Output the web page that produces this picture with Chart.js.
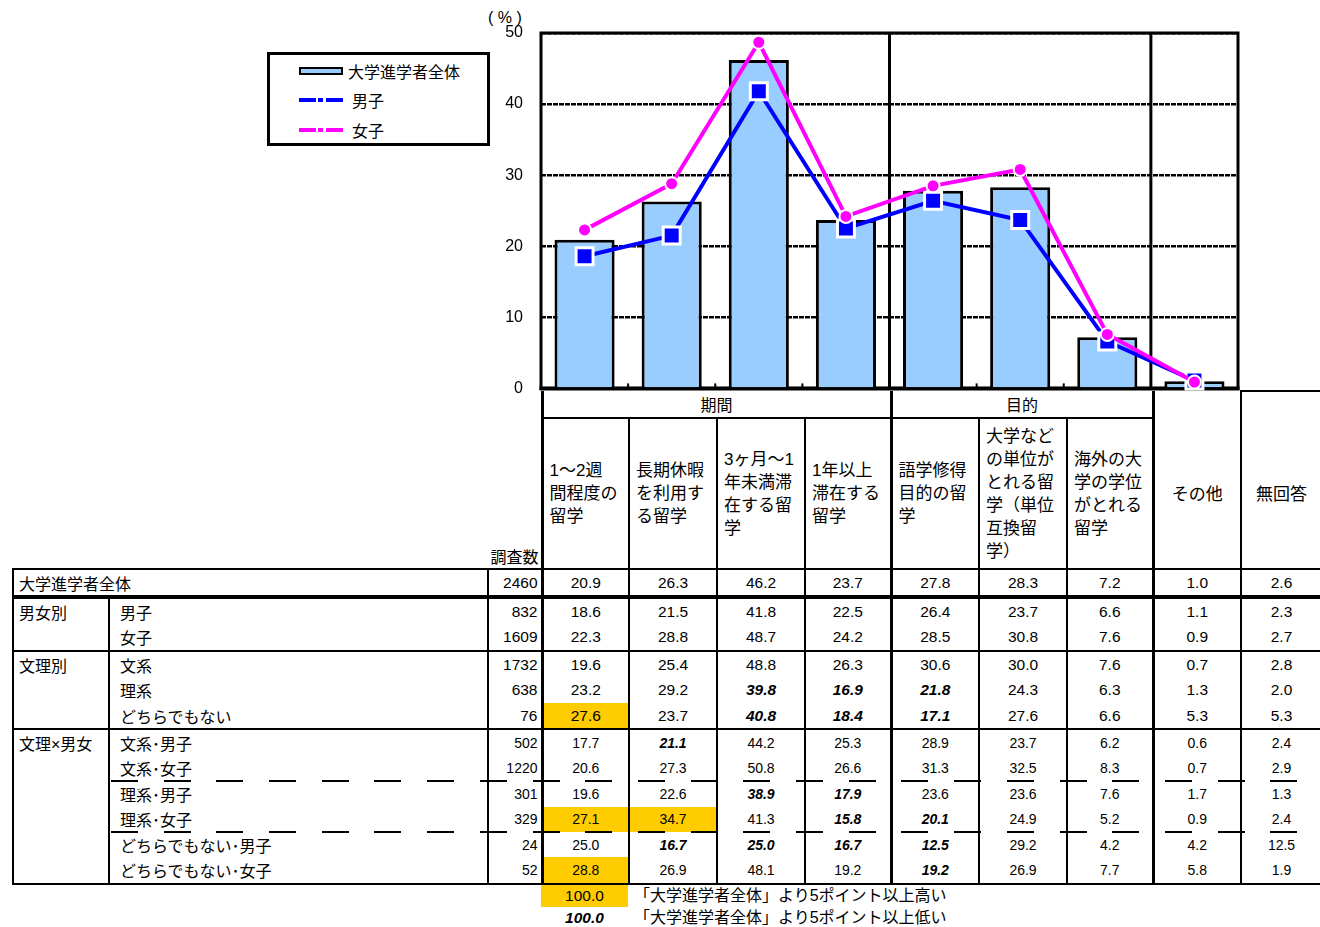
<!DOCTYPE html>
<html lang="ja">
<head>
<meta charset="utf-8">
<title>希望する留学の形態</title>
<script src="https://cdn.jsdelivr.net/npm/chart.js@4.4.1/dist/chart.umd.min.js"></script>
<style>
body { margin:0; width:1320px; height:927px; position:relative; overflow:hidden; background:#fff; color:#000;
  font-family:"Liberation Sans","Noto Sans CJK JP",sans-serif; }
#chartBox { position:absolute; left:480px; top:0; width:780px; height:416px; z-index:2; }
#unit { position:absolute; left:488px; top:8px; font-size:16px; line-height:20px; white-space:pre; }
#legend { position:absolute; left:267px; top:52px; width:217px; height:88px; border:3px solid #000; font-size:16px; }
#legend .it { position:absolute; left:29px; width:44px; }
#legend .tx { position:absolute; line-height:20px; }
#tbl { position:absolute; left:12px; top:390px; border-collapse:collapse; table-layout:fixed; width:1308px; }
#tbl td { padding:0; white-space:nowrap; overflow:hidden; }
#tbl tr.d td { height:25.4px; }
.lab { font-size:16px; padding-left:5px !important; vertical-align:middle; }
.lab2 { font-size:16px; padding-left:10px !important; }
.n { text-align:right; padding-right:3px !important; }
.v { text-align:center; }
.hi { background:#FFCC00; }
.lo { font-weight:bold; font-style:italic; }
.hd { font-size:17px; line-height:23px; vertical-align:middle; padding-left:6px !important; }
.dash { position:absolute; height:2px; z-index:3;
  background:repeating-linear-gradient(to right, #000 0 27px, transparent 27px 52.7px); }
.note { position:absolute; font-size:16px; line-height:22px; }
</style>
</head>
<body>
<div id="unit">( % )</div>
<div id="legend"></div>
<div id="chartBox"><canvas id="chart" width="780" height="416"></canvas></div>
<table id="tbl"></table>
<div id="notes"></div>
<script>
// column headers (line breaks as in the source table)
const columnLines = [
  ['1～2週', '間程度の', '留学'],
  ['長期休暇', 'を利用す', 'る留学'],
  ['3ヶ月～1', '年未満滞', '在する留', '学'],
  ['1年以上', '滞在する', '留学'],
  ['語学修得', '目的の留', '学'],
  ['大学など', 'の単位が', 'とれる留', '学（単位', '互換留', '学）'],
  ['海外の大', '学の学位', 'がとれる', '留学'],
  ['その他'],
  ['無回答']
];
const groupNames = ['期間', '目的'];
const groupSpans = [4, 3];

const rowGroups = ['大学進学者全体', '男女別', '', '文理別', '', '', '文理×男女', '', '', '', '', ''];
const rowLabels = ['', '男子', '女子', '文系', '理系', 'どちらでもない',
  '文系･男子', '文系･女子', '理系･男子', '理系･女子', 'どちらでもない･男子', 'どちらでもない･女子'];
const sampleSizes = [2460, 832, 1609, 1732, 638, 76, 502, 1220, 301, 329, 24, 52];

const overall       = [20.9, 26.3, 46.2, 23.7, 27.8, 28.3, 7.2, 1.0, 2.6];
const male          = [18.6, 21.5, 41.8, 22.5, 26.4, 23.7, 6.6, 1.1, 2.3];
const female        = [22.3, 28.8, 48.7, 24.2, 28.5, 30.8, 7.6, 0.9, 2.7];
const bunkei        = [19.6, 25.4, 48.8, 26.3, 30.6, 30.0, 7.6, 0.7, 2.8];
const rikei         = [23.2, 29.2, 39.8, 16.9, 21.8, 24.3, 6.3, 1.3, 2.0];
const neither       = [27.6, 23.7, 40.8, 18.4, 17.1, 27.6, 6.6, 5.3, 5.3];
const bunkeiMale    = [17.7, 21.1, 44.2, 25.3, 28.9, 23.7, 6.2, 0.6, 2.4];
const bunkeiFemale  = [20.6, 27.3, 50.8, 26.6, 31.3, 32.5, 8.3, 0.7, 2.9];
const rikeiMale     = [19.6, 22.6, 38.9, 17.9, 23.6, 23.6, 7.6, 1.7, 1.3];
const rikeiFemale   = [27.1, 34.7, 41.3, 15.8, 20.1, 24.9, 5.2, 0.9, 2.4];
const neitherMale   = [25.0, 16.7, 25.0, 16.7, 12.5, 29.2, 4.2, 4.2, 12.5];
const neitherFemale = [28.8, 26.9, 48.1, 19.2, 19.2, 26.9, 7.7, 5.8, 1.9];
const tableRows = [overall, male, female, bunkei, rikei, neither,
  bunkeiMale, bunkeiFemale, rikeiMale, rikeiFemale, neitherMale, neitherFemale];

// chart shows all columns except 無回答
const nChart = 8;
const categories = columnLines.slice(0, nChart).map(l => l.join(''));

const colors = { bar: '#99CCFF', male: '#0000FF', female: '#FF00FF' };

/* legend */
document.getElementById('legend').innerHTML =
  `<div class="it" style="top:12px;height:8px;border:2.5px solid #000;box-sizing:border-box;background:${colors.bar}"></div>
   <div class="tx" style="left:78px;top:8px">大学進学者全体</div>` +
  [['男子', colors.male, 45], ['女子', colors.female, 75]].map(([t, c, y]) =>
   `<svg class="it" style="top:${y - 3}px" width="44" height="6"><g stroke="${c}" stroke-width="4">
      <line x1="0" y1="3" x2="17" y2="3"/><line x1="19" y1="3" x2="24" y2="3"/><line x1="27" y1="3" x2="44" y2="3"/></g></svg>
    <div class="tx" style="left:82px;top:${y - 8}px">${t}</div>`).join('');

/* chart */
const groupEnds = groupSpans.map((s, i) => groupSpans.slice(0, i + 1).reduce((a, b) => a + b, 0));

const framePlugin = {
  id: 'frame',
  beforeDatasetsDraw(chart) {
    const { ctx, chartArea: a, scales: { x } } = chart;
    const edge = i => (x.getPixelForValue(i - 1) + x.getPixelForValue(i)) / 2;
    ctx.save();
    ctx.strokeStyle = '#000';
    ctx.lineWidth = 2;
    for (let i = 1; i < nChart; i++) {
      if (groupEnds.includes(i)) continue;
      ctx.beginPath(); ctx.moveTo(edge(i), a.bottom - 5); ctx.lineTo(edge(i), a.bottom); ctx.stroke();
    }
    ctx.lineWidth = 3;
    groupEnds.forEach(i => {
      ctx.beginPath(); ctx.moveTo(edge(i), a.top); ctx.lineTo(edge(i), a.bottom); ctx.stroke();
    });
    ctx.strokeRect(a.left, a.top, a.width, a.height);
    ctx.lineWidth = 4;
    ctx.beginPath(); ctx.moveTo(a.left - 1.5, a.bottom); ctx.lineTo(a.right + 1.5, a.bottom); ctx.stroke();
    ctx.restore();
  }
};

new Chart(document.getElementById('chart'), {
  type: 'bar',
  data: {
    labels: categories,
    datasets: [
      {
        type: 'line', label: '女子', data: female.slice(0, nChart), order: 1,
        borderColor: colors.female, backgroundColor: colors.female, borderWidth: 4,
        pointStyle: 'circle', pointRadius: 6.5, pointBackgroundColor: colors.female,
        pointBorderColor: '#fff', pointBorderWidth: 2, clip: false
      },
      {
        type: 'line', label: '男子', data: male.slice(0, nChart), order: 2,
        borderColor: colors.male, backgroundColor: colors.male, borderWidth: 4,
        pointStyle: 'rect', pointRadius: 12, pointBackgroundColor: colors.male,
        pointBorderColor: '#fff', pointBorderWidth: 3, clip: false
      },
      {
        type: 'bar', label: '大学進学者全体', data: overall.slice(0, nChart), order: 3,
        backgroundColor: colors.bar, borderColor: '#000', borderWidth: 3,
        barPercentage: 0.69, categoryPercentage: 1
      }
    ]
  },
  options: {
    responsive: false,
    animation: false,
    layout: { padding: { top: 33, right: 22, bottom: 12, left: 0 } },
    plugins: { legend: { display: false }, tooltip: { enabled: false } },
    scales: {
      x: { display: false },
      y: {
        min: 0, max: 50,
        ticks: { stepSize: 10, color: '#000', padding: 18, font: { size: 16, family: 'Liberation Sans' } },
        grid: { color: '#000', lineWidth: 2.5, drawTicks: false },
        border: { display: false, dash: [5, 1] },
        afterFit(s) { s.width = 61; }
      }
    }
  },
  plugins: [framePlugin]
});

/* table */
const B = w => `${w}px solid #000`;
const leftW = j => (j === 0 || groupEnds.includes(j)) ? 3 : 2;
const colW = [96, 379, 54, 87, 88, 88, 86, 88, 88, 86, 88, 80];
let html = '<colgroup>' + colW.map(w => `<col style="width:${w}px">`).join('') + '</colgroup>';

// header row 1
html += '<tr style="height:27px"><td colspan="2" rowspan="2"></td>' +
  `<td rowspan="2" style="vertical-align:bottom;text-align:right;font-size:16px;padding-right:2px;padding-bottom:0">調査数</td>`;
groupNames.forEach((g, i) => {
  html += `<td colspan="${groupSpans[i]}" style="text-align:center;font-size:16px;border-left:${B(3)};border-right:${B(3)};border-bottom:${B(2)}">${g}</td>`;
});
for (let j = groupEnds[groupEnds.length - 1]; j < columnLines.length; j++) {
  html += `<td rowspan="2" class="hd" style="text-align:center;padding-left:0 !important;padding-top:29px;border-left:${B(leftW(j))};` +
    (j === nChart ? `border-top:${B(2)};` : '') + `">${columnLines[j].join('<br>')}</td>`;
}
html += '</tr><tr style="height:151px">';
for (let j = 0; j < groupEnds[groupEnds.length - 1]; j++) {
  html += `<td class="hd" style="border-left:${B(leftW(j))}">${columnLines[j].join('<br>')}</td>`;
}
html += '</tr>';

// data rows
tableRows.forEach((vals, r) => {
  const small = r >= 6;
  const fs = small ? 14 : 15.5;
  let rowB = '';
  if (r === 0) rowB = `border-top:${B(2)};border-bottom:${B(4)};`;
  else if (rowGroups[r]) rowB = `border-top:${B(2)};`;
  if (r === tableRows.length - 1) rowB += `border-bottom:${B(2)};`;
  html += '<tr class="d">';
  if (r === 0) {
    html += `<td colspan="2" class="lab" style="${rowB}border-left:${B(2)}">${rowGroups[r]}</td>`;
  } else {
    html += `<td class="lab" style="${rowB}border-left:${B(2)};vertical-align:middle">${rowGroups[r]}</td>` +
      `<td class="lab2" style="${rowB}border-left:${B(2)}">${rowLabels[r]}</td>`;
  }
  html += `<td class="n" style="${rowB}border-left:${B(2)};font-size:${fs}px">${sampleSizes[r]}</td>`;
  vals.forEach((v, j) => {
    let cls = 'v';
    if (r > 0 && j < nChart) {
      if (v - overall[j] >= 4.95) cls += ' hi';
      else if (overall[j] - v >= 4.95) cls += ' lo';
    }
    html += `<td class="${cls}" style="${rowB}border-left:${B(leftW(j))};font-size:${fs}px">${v.toFixed(1)}</td>`;
  });
  html += '</tr>';
});
const tbl = document.getElementById('tbl');
tbl.innerHTML = html;

// dashed separators inside 文理×男女
const dashedAfter = [7, 9];
const dataTrs = tbl.querySelectorAll('tr.d');
dashedAfter.forEach(r => {
  const rect = dataTrs[r].getBoundingClientRect();
  const d = document.createElement('div');
  d.className = 'dash';
  d.style.left = '111px';
  d.style.width = '1209px';
  d.style.top = (rect.bottom - 1) + 'px';
  document.body.appendChild(d);
});

// legend of highlighting
const tb = tbl.getBoundingClientRect();
const notes = [
  { cls: 'hi', text: '「大学進学者全体」より5ポイント以上高い' },
  { cls: 'lo', text: '「大学進学者全体」より5ポイント以上低い' }
];
document.getElementById('notes').innerHTML = notes.map((n, i) =>
  `<div class="note ${n.cls}" style="left:541px;top:${tb.bottom + i * 22}px;width:87px;height:22px;line-height:22px;text-align:center;font-size:15.5px">100.0</div>
   <div class="note" style="left:634px;top:${tb.bottom + i * 22}px;line-height:22px">${n.text}</div>`).join('');
</script>
</body>
</html>
